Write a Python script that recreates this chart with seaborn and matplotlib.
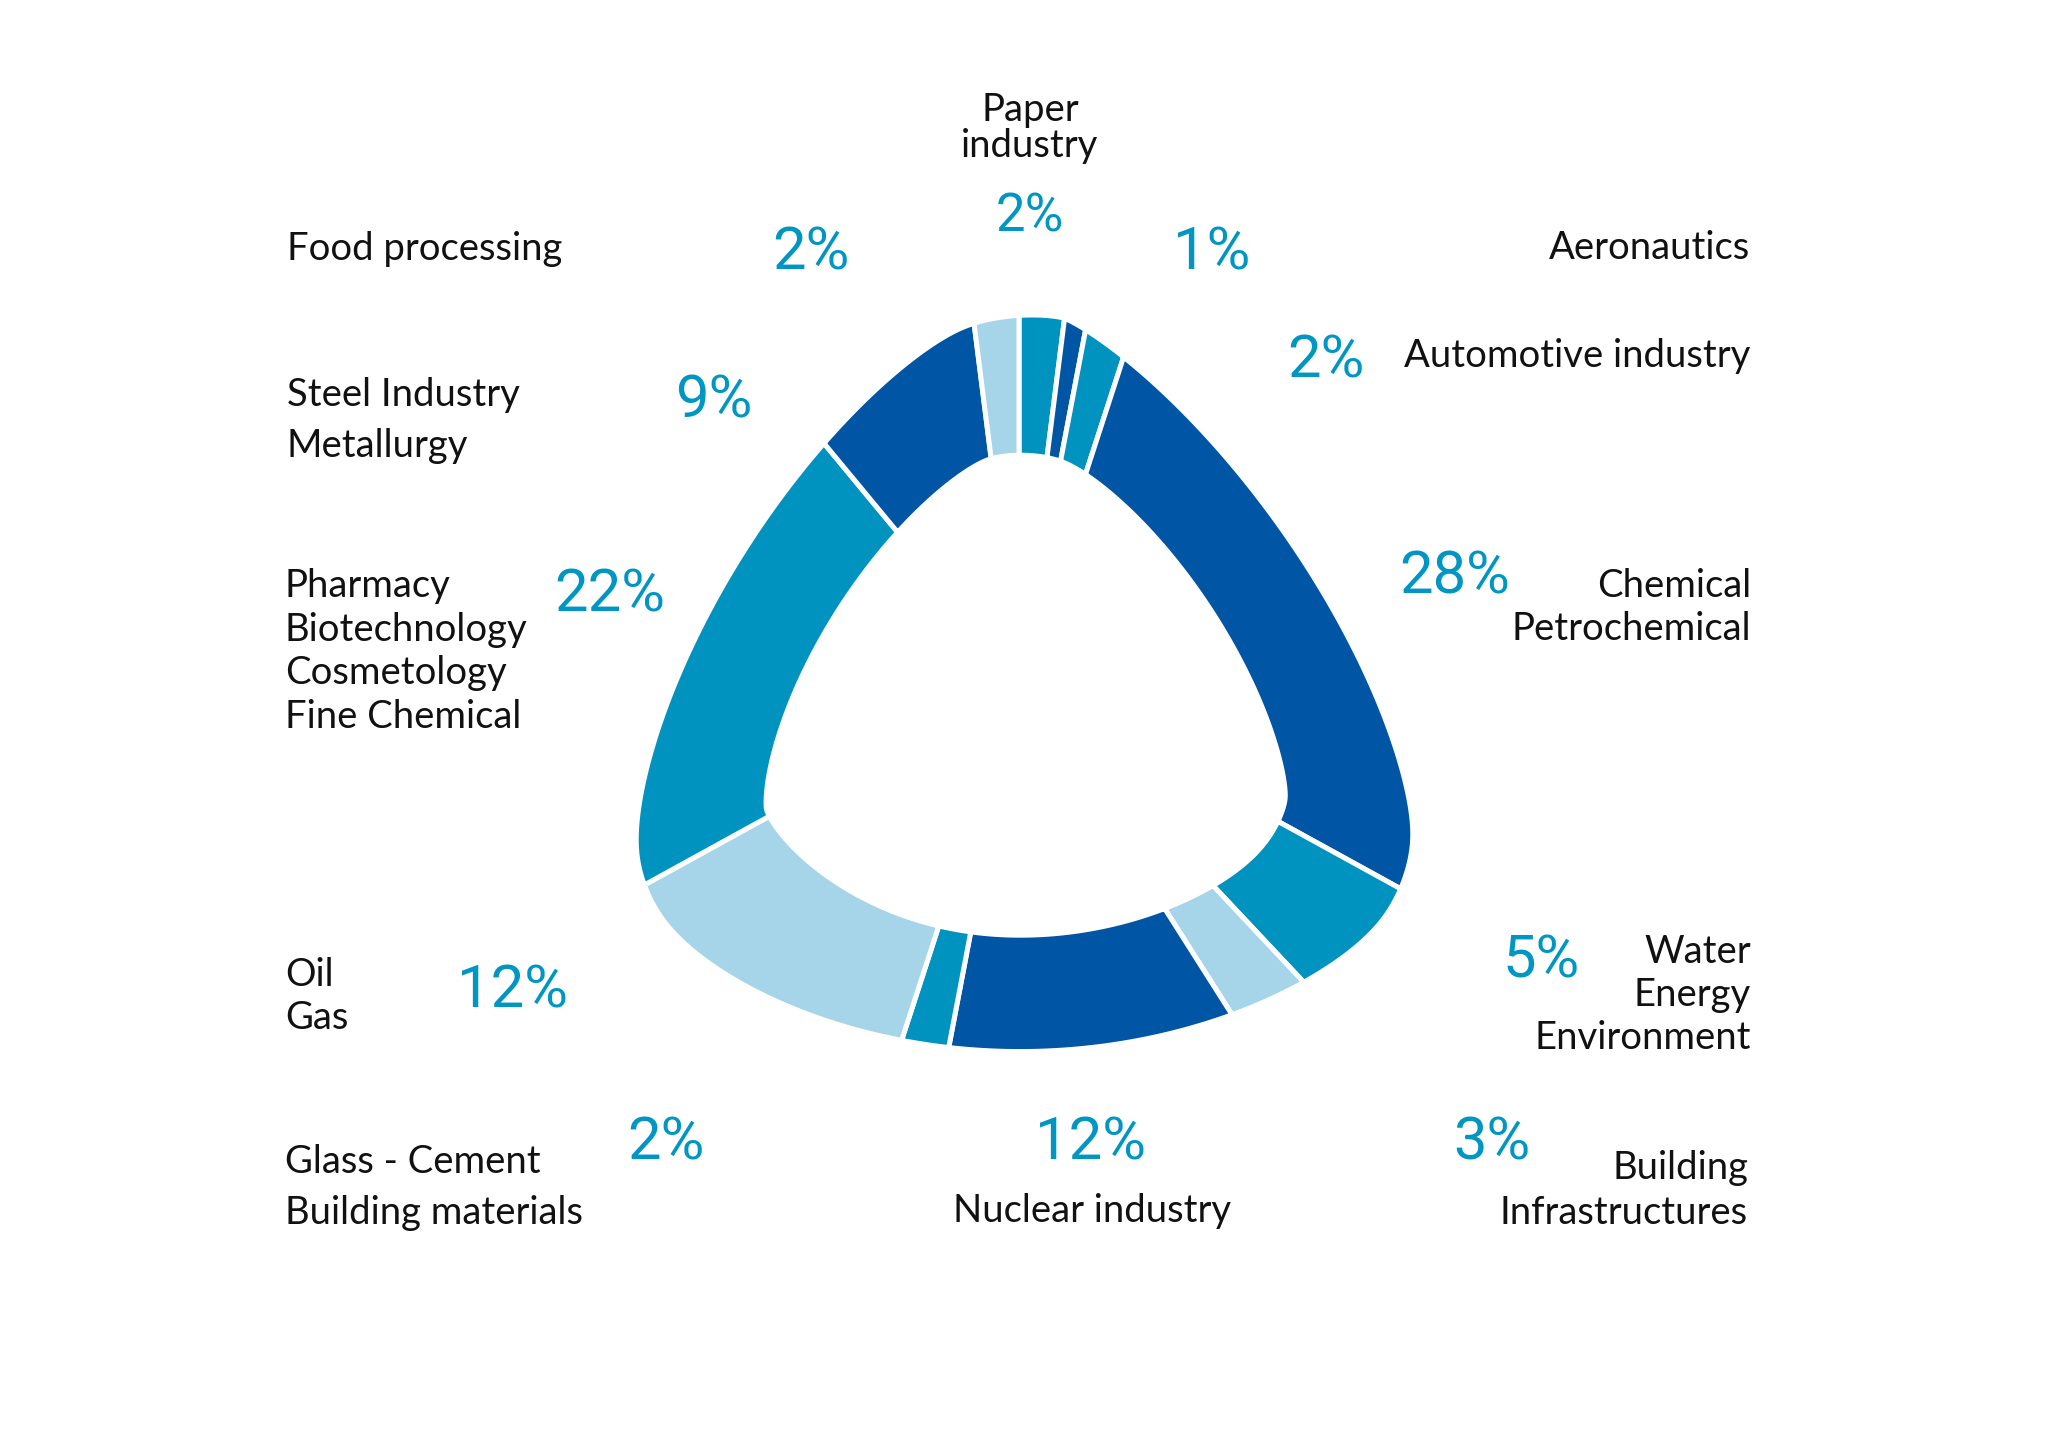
import numpy as np
import matplotlib
matplotlib.use("Agg")
import matplotlib.pyplot as plt
import seaborn as sns

# ---------------- data ----------------
sectors = ["Paper\nindustry", "Aeronautics", "Automotive industry", "Chemical\nPetrochemical",
           "Water\nEnergy\nEnvironment", "Building\nInfrastructures", "Nuclear industry",
           "Glass - Cement\nBuilding materials", "Oil\nGas",
           "Pharmacy\nBiotechnology\nCosmetology\nFine Chemical", "Steel Industry\nMetallurgy",
           "Food processing"]
shares = [2, 1, 2, 28, 5, 3, 12, 2, 12, 22, 9, 2]
shade = ["mid", "dark", "mid", "dark", "mid", "light", "dark", "mid", "light", "mid", "dark", "light"]

# ---------------- style / layout ----------------
sns.set_theme(style="white")
pal = sns.color_palette(["#0093C0", "#0056A4", "#A6D4E8"])
shade_color = {"mid": pal[0], "dark": pal[1], "light": pal[2]}
pct_color = "#0096C4"
label_font = ["Lato", "DejaVu Sans"]
pct_font = ["Roboto", "DejaVu Sans"]
plt.rcParams["font.family"] = label_font

# rounded-triangle outline style: support-function samples every 15 deg
# (math angle, counter-clockwise from +x), in reference-preview pixels
SCALE = 2048 / 1568
outer_support = [302, 266, 220, 227, 258, 277, 280, 273, 253, 233, 215, 258,
                 293, 320, 331, 326, 306, 287, 280, 287, 308, 330, 336, 327]
inner_support = [207, 179, 153, 152, 164, 171, 175, 170, 161, 146, 146, 168,
                 197, 215, 222, 215, 207, 200, 198, 200, 215, 223, 231, 223]
center = (1019, 679)
stroke_px = 2.5

# label layout: (x, ha, first baseline y, line step)
label_layout = [(1030, "center", 121, 36), (1750, "right", 259, 0), (1750, "right", 367, 0),
                (1751, "right", 597, 43), (1751, "right", 963, 43), (1748, "right", 1179, 45),
                (1092, "center", 1222, 0), (285, "left", 1173, 51), (285, "left", 986, 43),
                (285, "left", 597, 43.5), (287, "left", 406, 51), (287, "left", 260, 0)]
# percentage layout: (x centre, baseline y, size)
pct_layout = [(1030, 231, 38), (1212, 269, 43), (1326, 377, 43), (1455, 593, 43),
              (1541, 978, 43), (1492, 1160, 43), (1091, 1160, 43), (666, 1160, 43),
              (512, 1007, 43), (610, 611, 43), (714, 418, 43), (811, 269, 43)]


def outline_from_support(samples, offset, kmax=7):
    """Smooth convex outline from a truncated Fourier support function.
    Returns polar angle grid (deg, clockwise from top) and radius."""
    h = np.asarray(samples, float) * SCALE + offset
    n = len(h)
    c = np.fft.rfft(h) / n
    T = np.linspace(0, 2 * np.pi, 4000, endpoint=False)
    k = np.arange(1, kmax + 1)
    E = np.exp(1j * np.outer(T, k))
    damp = np.ones(kmax)
    for _ in range(200):
        ck = c[1:kmax + 1] * damp
        H = c[0].real + 2 * np.real(E @ ck)
        dH = 2 * np.real(E @ (1j * k * ck))
        d2H = 2 * np.real(E @ (-(k ** 2) * ck))
        if (H + d2H).min() > 8:
            break
        damp *= 1 - 0.03 * (k / kmax) ** 2
    X = H * np.cos(T) - dH * np.sin(T)
    Y = H * np.sin(T) + dH * np.cos(T)
    phi = np.degrees(np.arctan2(X, Y)) % 360
    r = np.hypot(X, Y)
    order = np.argsort(phi)
    return phi[order], r[order]


g_out, r_out = outline_from_support(outer_support, stroke_px)
g_in, r_in = outline_from_support(inner_support, -stroke_px)


def radius(grid, prof, phi):
    return np.interp(np.mod(phi, 360), grid, prof, period=360)


fig = plt.figure(figsize=(20.48, 14.48), dpi=100)
ax = fig.add_axes([0, 0, 1, 1])
ax.set_xlim(0, 2048)
ax.set_ylim(1448, 0)
ax.axis("off")

total = float(sum(shares))
bounds = np.concatenate([[0], np.cumsum(shares)]) / total * 360.0
cx, cy = center
for i, s in enumerate(sectors):
    a0, a1 = bounds[i], bounds[i + 1]
    phi = np.linspace(a0, a1, int((a1 - a0) * 4) + 2)
    ro = radius(g_out, r_out, phi)
    ri = radius(g_in, r_in, phi[::-1])
    xs = np.concatenate([cx + ro * np.sin(np.radians(phi)), cx + ri * np.sin(np.radians(phi[::-1]))])
    ys = np.concatenate([cy - ro * np.cos(np.radians(phi)), cy - ri * np.cos(np.radians(phi[::-1]))])
    ax.fill(xs, ys, facecolor=shade_color[shade[i]], edgecolor="white", linewidth=3.6,
            joinstyle="miter")

for i, s in enumerate(sectors):
    x, ha, y0, step = label_layout[i]
    for j, line in enumerate(s.split("\n")):
        ax.text(x, y0 + j * step, line, ha=ha, va="baseline", fontsize=27.5,
                color="#111111", family=label_font)
    px, py, size = pct_layout[i]
    ax.text(px, py, f"{shares[i]}%", ha="center", va="baseline", fontsize=size,
            color=pct_color, family=pct_font)

fig.savefig("out.png", dpi=100, facecolor="white")
